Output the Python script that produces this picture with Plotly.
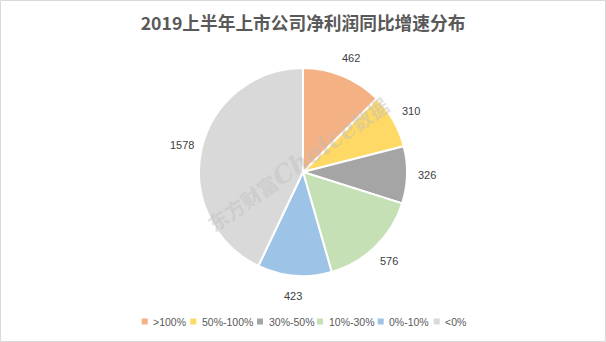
import numpy as np
import plotly.graph_objects as go

# Net profit YoY growth distribution of listed companies, H1 2019
categories = [">100%", "50%-100%", "30%-50%", "10%-30%", "0%-10%", "<0%"]
counts = [462, 310, 326, 576, 423, 1578]
colors = ["#F4B183", "#FFD966", "#A5A5A5", "#C5E0B4", "#9DC3E6", "#D9D9D9"]

W, H = 606, 342
PIE_TOP, PIE_BOTTOM = 68, 276          # pixel extent of the pie box
CX = W / 2
CY = (PIE_TOP + PIE_BOTTOM) / 2
R = (PIE_BOTTOM - PIE_TOP) / 2
LABEL_R = R + 20                       # radius of the value labels


def px_x(x):
    return x / W


def px_y(y):
    return 1 - y / H


fig = go.Figure(
    go.Pie(
        labels=categories,
        values=counts,
        marker=dict(colors=colors, line=dict(color="#FFFFFF", width=2)),
        sort=False,
        direction="clockwise",
        rotation=0,
        textinfo="none",
        showlegend=False,
        hoverinfo="label+value",
        domain=dict(x=[0, 1], y=[px_y(PIE_BOTTOM), px_y(PIE_TOP)]),
    )
)

# Value labels just outside each slice, along the slice's mid-angle
vals = np.array(counts, dtype=float)
mid = (np.cumsum(vals) - vals / 2) / vals.sum() * 2 * np.pi   # clockwise from 12 o'clock
for v, a in zip(counts, mid):
    lx = CX + LABEL_R * np.sin(a)
    ly = CY - LABEL_R * np.cos(a)
    fig.add_annotation(
        x=px_x(lx), y=px_y(ly), xref="paper", yref="paper",
        text=str(v), showarrow=False, xanchor="center", yanchor="middle",
        font=dict(family="Liberation Sans", size=11, color="#404040"),
    )

# Watermark across the pie
fig.add_annotation(
    x=px_x(297), y=px_y(164), xref="paper", yref="paper",
    text=("<b>东方财富<i><span style='font-family:DejaVu Serif;font-size:25px'>"
          "Choice</span></i>数据</b>"),
    textangle=-35, showarrow=False,
    font=dict(family="Noto Sans CJK SC", size=20, color="rgba(190,190,190,0.45)"),
)

# Legend row along the bottom
legend_x = [144.7, 193.3, 260, 320, 380.7, 436.7]
legend_y = 321.5
for cx, name, col in zip(legend_x, categories, colors):
    fig.add_shape(
        type="rect", xref="paper", yref="paper",
        x0=px_x(cx - 3), x1=px_x(cx + 3),
        y0=px_y(legend_y + 3), y1=px_y(legend_y - 3),
        fillcolor=col, line=dict(width=0),
    )
    fig.add_annotation(
        x=px_x(cx + 6.5), y=px_y(legend_y), xref="paper", yref="paper",
        text=name, showarrow=False, xanchor="left", yanchor="middle",
        font=dict(family="Liberation Sans", size=10.5, color="#595959"),
    )

# Thin frame around the chart area
fig.add_shape(
    type="rect", xref="paper", yref="paper",
    x0=px_x(0.5), x1=px_x(W - 0.5), y0=px_y(H - 0.5), y1=px_y(0.5),
    line=dict(color="#D9D9D9", width=1), fillcolor="rgba(0,0,0,0)",
)

fig.update_layout(
    width=W, height=H,
    margin=dict(l=0, r=0, t=0, b=0, autoexpand=False),
    paper_bgcolor="#FFFFFF",
    plot_bgcolor="#FFFFFF",
    title=dict(
        text="<b>2019上半年上市公司净利润同比增速分布</b>",
        x=0.5, xanchor="center", y=px_y(23.5), yanchor="middle",
        font=dict(family="Noto Sans CJK SC", size=17.7, color="#595959"),
    ),
)

fig.write_html("out.html")
